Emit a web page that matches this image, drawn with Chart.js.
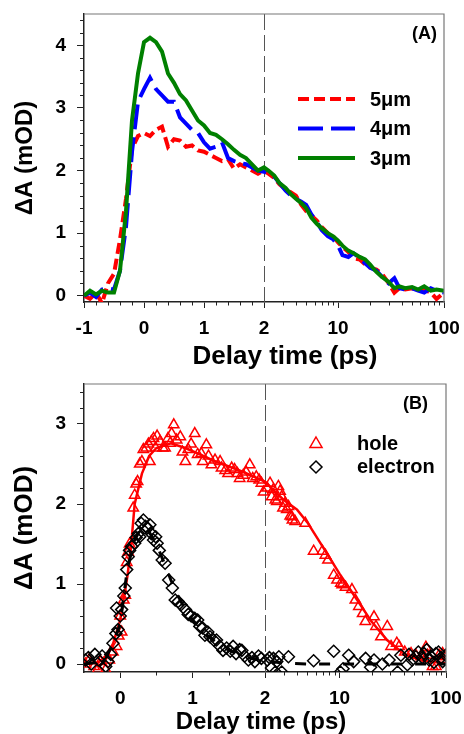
<!DOCTYPE html>
<html>
<head>
<meta charset="utf-8">
<script src="https://cdn.jsdelivr.net/npm/chart.js@4.4.0/dist/chart.umd.min.js"></script>
<style>
  body { margin: 0; background: #fff; }
  canvas { display: block; }
</style>
</head>
<body>
<canvas id="chartA" width="464" height="370"></canvas>
<canvas id="chartB" width="464" height="364"></canvas>
<script>
const FONT = '"Liberation Sans", Arial, sans-serif';
const INK = '#222';

// ---- panel A : thickness series ----
const timesA = [-1, -0.9, -0.8, -0.7, -0.6, -0.5, -0.4, -0.3, -0.2, -0.1, 0, 0.1, 0.2, 0.3, 0.4, 0.5, 0.6, 0.7, 0.8, 0.9,
  1, 1.1, 1.2, 1.3, 1.4, 1.5, 1.6, 1.7, 1.8, 1.9, 2,
  2.2, 2.5, 2.8, 3.2, 3.6, 4, 4.5, 5, 5.6, 6.3, 7, 8, 9, 10, 11, 12.5, 14, 16, 18, 20, 23, 26, 30, 34, 38, 43, 50, 57, 65, 75, 85, 100];
const red5 = [0, -0.05, 0.05, -0.12, 0.2, 0.35, 0.9, 1.55, 2.35, 2.55, 2.6, 2.55, 2.65, 2.7, 2.38, 2.5, 2.48, 2.38, 2.4, 2.32,
  2.3, 2.25, 2.2, 2.15, 2.18, 2.03, 2.1, 2.05, 2.0, 1.95, 2.0,
  1.95, 1.88, 1.78, 1.7, 1.65, 1.6, 1.45, 1.35, 1.28, 1.2, 1.1, 1.0, 0.95, 0.85, 0.78, 0.7, 0.6, 0.58, 0.5, 0.45, 0.42, 0.35, 0.2, 0.05, 0.12, 0.1, 0.12, 0.08, 0.1, 0.05, -0.05, 0.05];
const blue4 = [0, 0.05, -0.02, 0.1, 0.12, 0.1, 0.4, 1.1, 2.3, 3.1, 3.3, 3.48, 3.3, 3.2, 3.1, 3.1, 2.85, 2.75, 2.65, 2.6,
  2.45, 2.35, 2.38, 2.45, 2.2, 2.15, 2.12, 2.1, 2.05, 2.0, 1.98,
  1.95, 1.9, 1.8, 1.68, 1.6, 1.55, 1.5, 1.45, 1.3, 1.18, 1.05, 0.95, 0.9, 0.8, 0.65, 0.62, 0.68, 0.6, 0.52, 0.45, 0.4, 0.3, 0.2, 0.28, 0.12, 0.1, 0.12, 0.08, 0.05, 0.12, 0.08, 0.05];
const green3 = [0, 0.08, 0.02, 0.08, 0.05, 0.05, 0.4, 1.35, 2.8, 3.55, 4.05, 4.12, 4.05, 3.9, 3.55, 3.4, 3.22, 3.12, 2.96, 2.8,
  2.72, 2.6, 2.57, 2.5, 2.42, 2.33, 2.25, 2.2, 2.1, 2.0, 2.05,
  2.0, 1.92, 1.8, 1.72, 1.62, 1.55, 1.48, 1.4, 1.25, 1.15, 1.08, 1.0, 0.95, 0.88, 0.8, 0.72, 0.68, 0.62, 0.58, 0.5, 0.38, 0.3, 0.22, 0.12, 0.15, 0.12, 0.14, 0.1, 0.15, 0.08, 0.1, 0.08];
const seriesNamesA = ['5μm', '4μm', '3μm'];

const xMajorA = [-1, 0, 1, 2, 10, 100];
const xLabelsA = ['-1', '0', '1', '2', '10', '100'];
const xMinorA = [-0.8, -0.6, -0.4, -0.2, 0.2, 0.4, 0.6, 0.8, 1.2, 1.4, 1.6, 1.8, 3, 4, 5, 6, 7, 8, 9, 20, 30, 40, 50, 60, 70, 80, 90];
const yMajorA = [0, 1, 2, 3, 4];
const yMinorA = [0.2, 0.4, 0.6, 0.8, 1.2, 1.4, 1.6, 1.8, 2.2, 2.4, 2.6, 2.8, 3.2, 3.4, 3.6, 3.8, 4.2, 4.4];

// ---- panel B : hole / electron ----
const holeT = [-0.48, -0.43, -0.36, -0.31, -0.27, -0.2, -0.15, -0.1, -0.05, -0.02, 0, 0.02, 0.05, 0.07, 0.09, 0.11, 0.13, 0.18, 0.2, 0.22,
  0.24, 0.27, 0.3, 0.32, 0.36, 0.39, 0.41, 0.43, 0.46, 0.49, 0.51, 0.55, 0.59, 0.62, 0.66, 0.69, 0.71, 0.74, 0.78, 0.83,
  0.86, 0.9, 0.94, 0.98, 1.03, 1.07, 1.12, 1.14, 1.19, 1.22, 1.26, 1.31, 1.38, 1.4, 1.45, 1.49, 1.54, 1.58, 1.62, 1.65,
  1.7, 1.74, 1.79, 1.83, 1.88, 1.92, 1.95, 1.98,
  2.1, 2.23, 2.31, 2.4, 2.5, 2.58, 2.67, 2.77, 2.87, 2.95, 3.09, 3.2, 3.32, 3.45, 3.57, 3.62, 3.84, 4.77, 5.72, 6.9,
  7.37, 7.8, 8.83, 9.49, 10.3, 10.6, 11.4, 13.1, 14.1, 15.2, 16.5, 17.5, 21.1, 22, 24.5, 28.1, 30.5, 34.5, 36.3, 41,
  47, 52, 58, 64.7, 67, 74.8, 80.4, 86, 93, 99];
const holeV = [0, 0.05, -0.03, -0.07, 0.03, -0.07, 0.05, 0.15, 0.22, 0.35, 0.6, 0.4, 0.8, 0.86, 1.27, 1.4, 1.5, 1.95, 2.11, 2.25,
  2.28, 2.5, 2.53, 2.68, 2.7, 2.75, 2.53, 2.78, 2.82, 2.7, 2.85, 2.78, 2.7, 2.7, 2.82, 2.76, 2.88, 2.99, 2.8, 2.84,
  2.65, 2.53, 2.68, 2.75, 2.88, 2.62, 2.63, 2.53, 2.74, 2.6, 2.49, 2.55, 2.53, 2.45, 2.42, 2.38, 2.45, 2.43, 2.38, 2.32,
  2.36, 2.4, 2.49, 2.32, 2.34, 2.3, 2.26, 2.15,
  2.2, 2.26, 2.09, 2.18, 2.05, 2.03, 2.22, 2.16, 2.09, 1.95, 2.01, 1.93, 1.97, 1.85, 1.84, 1.8, 1.78, 1.76, 1.41, 1.41,
  1.36, 1.3, 1.11, 1.05, 1.01, 0.99, 0.96, 0.93, 0.8, 0.72, 0.63, 0.53, 0.59, 0.47, 0.34, 0.47, 0.22, 0.26, 0.22, 0.15,
  0.13, 0.11, 0.09, 0.21, 0.11, -0.03, -0.03, 0.11, 0.13, 0.09];
const holeFitT = [-0.5, -0.3, -0.2, -0.1, 0, 0.1, 0.15, 0.2, 0.3, 0.4, 0.5, 0.7, 0.9, 1.1, 1.3, 1.5, 1.7, 2, 2.5, 3, 4, 5, 7, 10, 14, 20, 28, 40, 60, 100];
const holeFitV = [0, 0.02, 0.1, 0.25, 0.55, 1.1, 1.47, 2.0, 2.38, 2.6, 2.7, 2.76, 2.7, 2.62, 2.54, 2.47, 2.4, 2.28, 2.15, 2.05, 1.93, 1.77, 1.46, 1.13, 0.84, 0.53, 0.3, 0.13, 0.04, 0.01];
const elecT = [-0.48, -0.44, -0.4, -0.35, -0.3, -0.25, -0.2, -0.17, -0.13, -0.1, -0.06, -0.05, -0.03, 0, 0.02, 0.05, 0.07, 0.09, 0.11, 0.13,
  0.16, 0.2, 0.22, 0.25, 0.27, 0.29, 0.32, 0.35, 0.38, 0.41, 0.43, 0.46, 0.49, 0.51, 0.54, 0.58, 0.62, 0.67, 0.72, 0.76,
  0.8, 0.84, 0.9, 0.94, 0.98, 1.03, 1.07, 1.1, 1.14, 1.17, 1.21, 1.24, 1.29, 1.33, 1.38, 1.42, 1.47, 1.52, 1.56, 1.6,
  1.65, 1.68, 1.72, 1.77, 1.82, 1.86, 1.91, 1.95,
  2.1, 2.2, 2.3, 2.4, 2.5, 2.58, 2.7, 2.87, 3.32, 5.72, 8.83, 10.2, 10.8, 12.2, 13.6, 17.6, 19.6, 21.1, 25.3, 29.2,
  35.1, 37.7, 43.4, 45, 48, 52.1, 55, 60, 62.4, 66, 69.5, 72, 77, 80.4, 85, 90, 93, 99];
const elecV = [0.05, 0.08, 0, 0.12, 0.05, 0.1, -0.03, 0.03, 0.12, 0.26, 0.38, 0.7, 0.43, 0.6, 0.68, 0.85, 0.95, 1.18, 1.34, 1.42,
  1.47, 1.51, 1.58, 1.63, 1.59, 1.76, 1.8, 1.72, 1.7, 1.74, 1.63, 1.55, 1.59, 1.51, 1.42, 1.3, 1.26, 1.05, 0.95, 0.8,
  0.78, 0.74, 0.68, 0.62, 0.6, 0.57, 0.55, 0.47, 0.45, 0.36, 0.4, 0.34, 0.3, 0.3, 0.22, 0.17, 0.2, 0.16, 0.22, 0.13,
  0.18, 0.17, 0.1, 0.05, 0.08, 0.03, 0.1, 0.07,
  0.05, 0.08, -0.05, 0.07, -0.1, 0.03, 0.09, -0.1, 0.09, 0.04, 0.16, -0.1, -0.06, 0.11, 0.03, 0.07, -0.04, 0.05, 0, 0.05,
  -0.1, 0.11, -0.01, 0.12, 0.05, 0.09, 0.15, 0.08, 0.13, 0.18, 0.05, 0.1, 0.02, 0.13, 0.15, 0.08, 0.03, 0.11];
const elecFitT = [-0.5, -0.3, -0.2, -0.1, 0, 0.1, 0.2, 0.3, 0.4, 0.5, 0.6, 0.7, 0.8, 0.9, 1, 1.2, 1.4, 1.6, 1.8, 2, 3, 5, 10, 20, 50, 100];
const elecFitV = [0, 0.02, 0.08, 0.25, 0.5, 1.2, 1.55, 1.72, 1.65, 1.5, 1.28, 1.05, 0.85, 0.68, 0.55, 0.36, 0.22, 0.13, 0.07, 0.04, 0.01, 0, 0, 0, 0, 0];
const seriesNamesB = ['hole', 'electron'];

const xMajorB = [0, 1, 2, 10, 100];
const xLabelsB = ['0', '1', '2', '10', '100'];
const xMinorB = [0.5, 1.5, 3, 4, 5, 6, 7, 8, 9, 20, 30, 40, 50, 60, 70, 80, 90];
const yMajorB = [0, 1, 2, 3];
const yMinorB = [0.2, 0.4, 0.6, 0.8, 1.2, 1.4, 1.6, 1.8, 2.2, 2.4, 2.6, 2.8, 3.2, 3.4];

// axis is linear up to 2 ps, then log10 up to 100 ps
let axisT = (d, span) => d <= 2 ? d : 2 + span * Math.log10(d / 2) / Math.log10(50);
let pts = (ts, vs, span) => ts.map((t, i) => ({ x: axisT(t, span), y: vs[i] }));

let tickFont = { family: FONT, size: 19, weight: 'bold' };

function triangle(ctx, x, y, r) {
  ctx.beginPath();
  ctx.moveTo(x, y - r);
  ctx.lineTo(x + r * 0.866, y + r * 0.5);
  ctx.lineTo(x - r * 0.866, y + r * 0.5);
  ctx.closePath();
  ctx.stroke();
}
function diamond(ctx, x, y, r) {
  ctx.beginPath();
  ctx.moveTo(x, y - r);
  ctx.lineTo(x + r, y);
  ctx.lineTo(x, y + r);
  ctx.lineTo(x - r, y);
  ctx.closePath();
  ctx.stroke();
}

const framePlugin = {
  id: 'frame',
  beforeDatasetsDraw(chart, args, o) {
    const { ctx, chartArea: a, scales: { x } } = chart;
    const px = Math.round(x.getPixelForValue(2)) + 0.5;
    ctx.save();
    ctx.strokeStyle = '#555';
    ctx.lineWidth = 1;
    ctx.setLineDash([16, 5]);
    ctx.beginPath();
    ctx.moveTo(px, a.top);
    ctx.lineTo(px, a.bottom);
    ctx.stroke();
    ctx.restore();
  },
  afterDraw(chart, args, o) {
    const { ctx, chartArea: a, scales: { x, y } } = chart;
    const panelA = o.panel === 'A';
    const span = panelA ? 3 : 2.5;
    ctx.save();
    ctx.strokeStyle = '#777';
    ctx.lineWidth = 1.2;
    ctx.beginPath();
    ctx.moveTo(a.left, a.top);
    ctx.lineTo(a.right, a.top);
    ctx.lineTo(a.right, a.bottom);
    ctx.stroke();

    // minor ticks
    ctx.strokeStyle = INK;
    ctx.lineWidth = 1;
    ctx.beginPath();
    (panelA ? xMinorA : xMinorB).forEach(d => {
      const p = Math.round(x.getPixelForValue(axisT(d, span))) + 0.5;
      ctx.moveTo(p, a.bottom);
      ctx.lineTo(p, a.bottom + 3.5);
    });
    (panelA ? yMinorA : yMinorB).forEach(v => {
      const p = Math.round(y.getPixelForValue(v)) + 0.5;
      ctx.moveTo(a.left - 4, p);
      ctx.lineTo(a.left, p);
    });
    ctx.stroke();

    ctx.fillStyle = '#000';
    ctx.textBaseline = 'middle';
    ctx.textAlign = 'center';
    // x axis title
    if (panelA) {
      ctx.font = 'bold 26px ' + FONT;
      ctx.fillText('Delay time (ps)', 285, 357);
    } else {
      ctx.font = 'bold 24px ' + FONT;
      ctx.fillText('Delay time (ps)', 261, 352);
    }

    ctx.font = 'bold 18px ' + FONT;
    ctx.textAlign = 'right';
    ctx.fillText(panelA ? '(A)' : '(B)', panelA ? 437 : 428, 34);

    ctx.font = 'bold 20px ' + FONT;
    ctx.textAlign = 'left';
    if (panelA) {
      chart.data.datasets.forEach((ds, i) => {
        const ly = 99 + 29.5 * i;
        ctx.save();
        ctx.strokeStyle = ds.borderColor;
        ctx.lineWidth = ds.borderWidth;
        ctx.setLineDash(ds.borderDash || []);
        ctx.beginPath();
        ctx.moveTo(298, ly);
        ctx.lineTo(355, ly);
        ctx.stroke();
        ctx.restore();
        ctx.fillText(seriesNamesA[i], 370, ly + 1);
      });
    } else {
      ctx.lineWidth = 1.5;
      ctx.strokeStyle = '#ff0000';
      triangle(ctx, 316, 74, 7);
      ctx.strokeStyle = '#000';
      diamond(ctx, 316, 97, 6);
      ctx.fillText(seriesNamesB[0], 357, 74);
      ctx.fillText(seriesNamesB[1], 357, 97);
    }
    ctx.restore();
  }
};

function scalesFor(xMin, xMax, span, xMajor, xLabels, yMax, yMajor, xHeight, yTitleSize) {
  return {
    x: {
      type: 'linear', min: xMin, max: xMax,
      afterBuildTicks: s => { s.ticks = xMajor.map(d => ({ value: axisT(d, span) })); },
      afterFit: s => { s.height = xHeight; s.paddingLeft = 0; s.paddingRight = 0; },
      ticks: { callback: (v, i) => xLabels[i], autoSkip: false, maxRotation: 0, padding: 9, color: '#000', font: tickFont },
      grid: { drawOnChartArea: false, tickLength: 6, tickColor: INK },
      border: { color: INK, width: 1.5 }
    },
    y: {
      type: 'linear', min: -0.1, max: yMax,
      afterBuildTicks: s => { s.ticks = yMajor.map(v => ({ value: v })); },
      afterFit: s => { s.width = 84; s.paddingTop = 0; s.paddingBottom = 0; },
      ticks: { callback: v => String(v), padding: 11, color: '#000', font: tickFont },
      grid: { drawOnChartArea: false, tickLength: 7, tickColor: INK },
      border: { color: INK, width: 1.5 },
      title: { display: true, text: 'ΔA (mOD)', color: '#000', padding: { top: 25 - yTitleSize / 2, bottom: 0 },
        font: { family: FONT, size: yTitleSize, weight: 'bold', lineHeight: 1 } }
    }
  };
}

let lineSet = (label, data, color, dash, order) => ({
  label, data, showLine: true, borderColor: color, borderWidth: 4, borderDash: dash,
  borderCapStyle: 'butt', pointRadius: 0, tension: 0, order
});

new Chart(document.getElementById('chartA'), {
  type: 'scatter',
  data: {
    datasets: [
      lineSet(seriesNamesA[0], pts(timesA, red5, 3), '#ff0000', [11, 5], 3),
      lineSet(seriesNamesA[1], pts(timesA, blue4, 3), '#0000ff', [25, 8], 2),
      lineSet(seriesNamesA[2], pts(timesA, green3, 3), '#008000', [], 1)
    ]
  },
  options: {
    responsive: false, animation: false, devicePixelRatio: 1,
    layout: { padding: { top: 14, right: 20, left: 0, bottom: 0 } },
    plugins: { legend: { display: false }, tooltip: { enabled: false }, frame: { panel: 'A' } },
    scales: scalesFor(-1, 5, 3, xMajorA, xLabelsA, 4.5, yMajorA, 68, 24)
  },
  plugins: [framePlugin]
});

new Chart(document.getElementById('chartB'), {
  type: 'scatter',
  data: {
    datasets: [
      { label: seriesNamesB[0], data: pts(holeT, holeV, 2.5), pointStyle: 'triangle', pointRadius: 6,
        borderColor: '#ff0000', backgroundColor: 'rgba(0,0,0,0)', borderWidth: 1.5, order: 4 },
      { label: 'hole fit', data: pts(holeFitT, holeFitV, 2.5), showLine: true, pointRadius: 0,
        borderColor: '#ff0000', borderWidth: 2.5, tension: 0, order: 3 },
      { label: seriesNamesB[1], data: pts(elecT, elecV, 2.5), pointStyle: 'rectRot', pointRadius: 6,
        borderColor: '#000', backgroundColor: 'rgba(0,0,0,0)', borderWidth: 1.5, order: 2 },
      { label: 'electron fit', data: pts(elecFitT, elecFitV, 2.5), showLine: true, pointRadius: 0,
        borderColor: '#000', borderWidth: 3, borderDash: [11, 13], borderCapStyle: 'butt', tension: 0, order: 1 }
    ]
  },
  options: {
    responsive: false, animation: false, devicePixelRatio: 1,
    layout: { padding: { top: 14, right: 18, left: 0, bottom: 0 } },
    plugins: { legend: { display: false }, tooltip: { enabled: false }, frame: { panel: 'B' } },
    scales: scalesFor(-0.5, 4.5, 2.5, xMajorB, xLabelsB, 3.5, yMajorB, 62, 26)
  },
  plugins: [framePlugin]
});
</script>
</body>
</html>
